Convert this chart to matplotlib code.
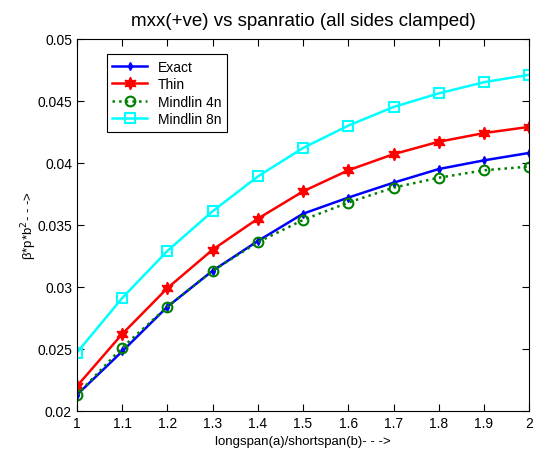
import matplotlib
matplotlib.use('Agg')
import matplotlib.pyplot as plt

plt.rcParams['font.family'] = ['Liberation Sans', 'DejaVu Sans']

ratio = [1.0, 1.1, 1.2, 1.3, 1.4, 1.5, 1.6, 1.7, 1.8, 1.9, 2.0]
exact = [0.0213, 0.0248, 0.0284, 0.0313, 0.0337, 0.0359, 0.0372, 0.0384, 0.0395, 0.0402, 0.0408]
thin = [0.0220, 0.0262, 0.0299, 0.0330, 0.0355, 0.0377, 0.0394, 0.0407, 0.0417, 0.0424, 0.0429]
mindlin4 = [0.0213, 0.0251, 0.0284, 0.0313, 0.0336, 0.0354, 0.0368, 0.0380, 0.0388, 0.0394, 0.0397]
mindlin8 = [0.0247, 0.0291, 0.0329, 0.0361, 0.0389, 0.0412, 0.0430, 0.0445, 0.0456, 0.0465, 0.0471]

fig = plt.figure(figsize=(5.34, 4.52), dpi=100)
ax = fig.add_axes([0.144, 0.0885, 0.847, 0.8235])

# hexagram like matlab 'h'
ax.plot(ratio, exact, '-d', color='blue', lw=1.8, ms=4, label='Exact')
ax.plot(ratio, thin, '-', marker=(6, 1, 0), color='red', lw=1.8, ms=9, label='Thin')
ax.plot(ratio, mindlin4, ':o', color='green', lw=1.8, ms=7, mfc='none', mew=1.5, label='Mindlin 4n')
ax.plot(ratio, mindlin8, '-s', color='cyan', lw=1.8, ms=7, mfc='none', mew=1.5, label='Mindlin 8n')

ax.set_xlim(1, 2)
ax.set_ylim(0.02, 0.05)
ax.set_xticks([1, 1.1, 1.2, 1.3, 1.4, 1.5, 1.6, 1.7, 1.8, 1.9, 2])
ax.set_xticklabels(['1', '1.1', '1.2', '1.3', '1.4', '1.5', '1.6', '1.7', '1.8', '1.9', '2'])
ax.set_yticks([0.02, 0.025, 0.03, 0.035, 0.04, 0.045, 0.05])
ax.set_yticklabels(['0.02', '0.025', '0.03', '0.035', '0.04', '0.045', '0.05'])
ax.tick_params(direction='in', top=True, right=True, labelsize=10, length=5)

ax.set_title('mxx(+ve) vs spanratio (all sides clamped)', fontsize=13.5, pad=10)
ax.set_xlabel('longspan(a)/shortspan(b)- - ->', fontsize=9.5)
ax.set_ylabel('β*p*b$^2$- - ->', fontsize=9.5, labelpad=-1)

leg = ax.legend(loc='upper left', bbox_to_anchor=(0.066, 0.959), borderaxespad=0,
                fancybox=False, edgecolor='black', framealpha=1, fontsize=10,
                borderpad=0.4, labelspacing=0.25, handlelength=2.5)
leg.get_frame().set_linewidth(0.8)

fig.savefig('out.png', dpi=100)
